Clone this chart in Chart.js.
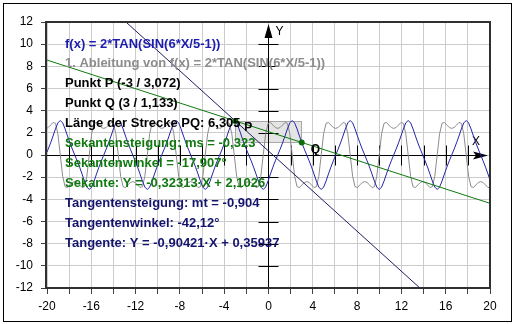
<!DOCTYPE html>
<html>
<head>
<meta charset="utf-8">
<title>Sekante und Tangente</title>
<script src="https://cdn.jsdelivr.net/npm/chart.js@4.4.1/dist/chart.umd.min.js"></script>
<style>
  html, body { margin: 0; padding: 0; background: #fff; }
  canvas { display: block; }
</style>
</head>
<body>
<canvas id="grafik" width="515" height="324"></canvas>
<script>
var xWerte = [-20,
  -19.892, -19.674, -19.456, -19.238, -19.020, -18.802, -18.583, -18.365, -18.147, -17.929, -17.711, -17.493,
  -17.274, -17.056, -16.838, -16.620, -16.402, -16.184, -15.965, -15.747, -15.529, -15.311, -15.093,
  -14.875, -14.656, -14.438, -14.220, -14.002, -13.784, -13.566, -13.347, -13.129, -12.911, -12.693, -12.475,
  -12.257, -12.038, -11.820, -11.602, -11.384, -11.166, -10.948, -10.729, -10.511, -10.293, -10.075, -9.857,
  -9.639, -9.420, -9.202, -8.984, -8.766, -8.548, -8.330, -8.111, -7.893, -7.675, -7.457, -7.239,
  -7.021, -6.802, -6.584, -6.366, -6.148, -5.930, -5.712, -5.493, -5.275, -5.057, -4.839, -4.621,
  -4.403, -4.184, -3.966, -3.748, -3.530, -3.312, -3.094, -2.875, -2.657, -2.439, -2.221, -2.003,
  -1.785, -1.566, -1.348, -1.130, -0.912, -0.694, -0.476, -0.258, -0.039, 0.179, 0.397, 0.615,
  0.833, 1.052, 1.270, 1.488, 1.706, 1.924, 2.142, 2.360, 2.579, 2.797, 3.015, 3.233,
  3.451, 3.670, 3.888, 4.106, 4.324, 4.542, 4.760, 4.978, 5.197, 5.415, 5.633, 5.851,
  6.069, 6.287, 6.506, 6.724, 6.942, 7.160, 7.378, 7.596, 7.815, 8.033, 8.251, 8.469,
  8.687, 8.905, 9.124, 9.342, 9.560, 9.778, 9.996, 10.214, 10.433, 10.651, 10.869, 11.087,
  11.305, 11.523, 11.742, 11.960, 12.178, 12.396, 12.614, 12.832, 13.051, 13.269, 13.487, 13.705,
  13.923, 14.141, 14.360, 14.578, 14.796, 15.014, 15.232, 15.450, 15.669, 15.887, 16.105, 16.323,
  16.541, 16.759, 16.978, 17.196, 17.414, 17.632, 17.850, 18.068, 18.287, 18.505, 18.723, 18.941,
  19.159, 19.377, 19.596, 19.814,
  20];

// f(x) = 2*TAN(SIN(6*X/5-1))
var fWerte = [0.266,
  0.530, 1.093, 1.709, 2.352, 2.893, 3.115, 2.893, 2.352, 1.709, 1.093, 0.530,
  0, -0.530, -1.093, -1.709, -2.352, -2.893, -3.115, -2.893, -2.352, -1.709, -1.093, -0.530,
  0, 0.530, 1.093, 1.709, 2.352, 2.893, 3.115, 2.893, 2.352, 1.709, 1.093, 0.530,
  0, -0.530, -1.093, -1.709, -2.352, -2.893, -3.115, -2.893, -2.352, -1.709, -1.093, -0.530,
  0, 0.530, 1.093, 1.709, 2.352, 2.893, 3.115, 2.893, 2.352, 1.709, 1.093, 0.530,
  0, -0.530, -1.093, -1.709, -2.352, -2.893, -3.115, -2.893, -2.352, -1.709, -1.093, -0.530,
  0, 0.530, 1.093, 1.709, 2.352, 2.893, 3.115, 2.893, 2.352, 1.709, 1.093, 0.530,
  0, -0.530, -1.093, -1.709, -2.352, -2.893, -3.115, -2.893, -2.352, -1.709, -1.093, -0.530,
  0, 0.530, 1.093, 1.709, 2.352, 2.893, 3.115, 2.893, 2.352, 1.709, 1.093, 0.530,
  0, -0.530, -1.093, -1.709, -2.352, -2.893, -3.115, -2.893, -2.352, -1.709, -1.093, -0.530,
  0, 0.530, 1.093, 1.709, 2.352, 2.893, 3.115, 2.893, 2.352, 1.709, 1.093, 0.530,
  0, -0.530, -1.093, -1.709, -2.352, -2.893, -3.115, -2.893, -2.352, -1.709, -1.093, -0.530,
  0, 0.530, 1.093, 1.709, 2.352, 2.893, 3.115, 2.893, 2.352, 1.709, 1.093, 0.530,
  0, -0.530, -1.093, -1.709, -2.352, -2.893, -3.115, -2.893, -2.352, -1.709, -1.093, -0.530,
  0, 0.530, 1.093, 1.709, 2.352, 2.893, 3.115, 2.893, 2.352, 1.709, 1.093, 0.530,
  0, -0.530, -1.093, -1.709,
  -2.259];

// 1. Ableitung
var ableitungWerte = [2.421,
  2.481, 2.699, 2.936, 2.859, 1.921, 0, -1.921, -2.859, -2.936, -2.699, -2.481,
  -2.400, -2.481, -2.699, -2.936, -2.859, -1.921, 0, 1.921, 2.859, 2.936, 2.699, 2.481,
  2.400, 2.481, 2.699, 2.936, 2.859, 1.921, 0, -1.921, -2.859, -2.936, -2.699, -2.481,
  -2.400, -2.481, -2.699, -2.936, -2.859, -1.921, 0, 1.921, 2.859, 2.936, 2.699, 2.481,
  2.400, 2.481, 2.699, 2.936, 2.859, 1.921, 0, -1.921, -2.859, -2.936, -2.699, -2.481,
  -2.400, -2.481, -2.699, -2.936, -2.859, -1.921, 0, 1.921, 2.859, 2.936, 2.699, 2.481,
  2.400, 2.481, 2.699, 2.936, 2.859, 1.921, 0, -1.921, -2.859, -2.936, -2.699, -2.481,
  -2.400, -2.481, -2.699, -2.936, -2.859, -1.921, 0, 1.921, 2.859, 2.936, 2.699, 2.481,
  2.400, 2.481, 2.699, 2.936, 2.859, 1.921, 0, -1.921, -2.859, -2.936, -2.699, -2.481,
  -2.400, -2.481, -2.699, -2.936, -2.859, -1.921, 0, 1.921, 2.859, 2.936, 2.699, 2.481,
  2.400, 2.481, 2.699, 2.936, 2.859, 1.921, 0, -1.921, -2.859, -2.936, -2.699, -2.481,
  -2.400, -2.481, -2.699, -2.936, -2.859, -1.921, 0, 1.921, 2.859, 2.936, 2.699, 2.481,
  2.400, 2.481, 2.699, 2.936, 2.859, 1.921, 0, -1.921, -2.859, -2.936, -2.699, -2.481,
  -2.400, -2.481, -2.699, -2.936, -2.859, -1.921, 0, 1.921, 2.859, 2.936, 2.699, 2.481,
  2.400, 2.481, 2.699, 2.936, 2.859, 1.921, 0, -1.921, -2.859, -2.936, -2.699, -2.481,
  -2.400, -2.481, -2.699, -2.936,
  -2.911];

var sekanteX = [-20, 20];
var sekanteY = [8.565, -4.360];
var tangenteX = [-12.874, 13.669];
var tangenteY = [12, -12];

var punkteX = [-3, 3];
var punkteY = [3.072, 1.133];
var punkteNamen = ['P', 'Q'];

var xBeschriftung = [-20, -16, -12, -8, -4, 0, 4, 8, 12, 16, 20];
var yBeschriftung = [-12, -10, -8, -6, -4, -2, 0, 2, 4, 6, 8, 10, 12];

var textZeilen = [
  'f(x) = 2*TAN(SIN(6*X/5-1))',
  '1. Ableitung von f(x) = 2*TAN(SIN(6*X/5-1))',
  'Punkt P (-3 / 3,072)',
  'Punkt Q (3 / 1,133)',
  'Länge der Strecke PQ: 6,305',
  'Sekantensteigung: ms = -0,323',
  'Sekantenwinkel = -17,907°',
  'Sekante: Y = -0,32313·X + 2,1026',
  'Tangentensteigung: mt = -0,904',
  'Tangentenwinkel: -42,12°',
  'Tangente: Y = -0,90421·X + 0,35937'
];
var textFarben = ['#1c1cb0', '#8c8c8c', '#000000', '#000000', '#000000',
  '#0f780f', '#0f780f', '#0f780f', '#14146e', '#14146e', '#14146e'];

var schrift = '"Liberation Sans", Arial, sans-serif';
Chart.defaults.font.family = schrift;

function paare(xs, ys) {
  return xs.map(function (x, i) { return { x: x, y: ys[i] }; });
}

// Achsen, Kasten, Texte und Rahmen
var zeichner = {
  id: 'zeichner',
  beforeDatasetsDraw: function (chart) {
    var ctx = chart.ctx, a = chart.chartArea, sx = chart.scales.x, sy = chart.scales.y;
    var px = sx.getPixelForValue(punkteX[0]), py = sy.getPixelForValue(punkteY[0]);
    var qx = sx.getPixelForValue(punkteX[1]), qy = sy.getPixelForValue(punkteY[1]);
    ctx.save();
    ctx.fillStyle = '#e4e4e4';
    ctx.fillRect(px, py, qx - px, qy - py);
    ctx.strokeStyle = '#a8a8a8';
    ctx.lineWidth = 1;
    ctx.strokeRect(Math.round(px) + 0.5, Math.round(py) + 0.5, Math.round(qx - px), Math.round(qy - py));

    var x0 = Math.floor(sx.getPixelForValue(0)) + 0.5;
    var y0 = Math.floor(sy.getPixelForValue(0)) + 0.5;
    ctx.strokeStyle = '#000';
    ctx.beginPath();
    ctx.moveTo(a.left, y0); ctx.lineTo(a.right - 4, y0);
    ctx.moveTo(x0, a.bottom); ctx.lineTo(x0, a.top + 4);
    sx.ticks.forEach(function (t) {
      if (t.value === 0 || Math.abs(t.value) >= 20) return;
      var p = Math.round(sx.getPixelForValue(t.value)) + 0.5;
      ctx.moveTo(p, y0 - 10); ctx.lineTo(p, y0 + 10);
    });
    sy.ticks.forEach(function (t) {
      if (t.value === 0 || Math.abs(t.value) >= 12) return;
      var p = Math.round(sy.getPixelForValue(t.value)) + 0.5;
      ctx.moveTo(x0 - 10, p); ctx.lineTo(x0 + 10, p);
    });
    ctx.stroke();

    // Pfeile
    ctx.fillStyle = '#000';
    ctx.beginPath();
    ctx.moveTo(a.right - 2, y0);
    ctx.lineTo(a.right - 17, y0 - 4);
    ctx.lineTo(a.right - 14, y0);
    ctx.lineTo(a.right - 17, y0 + 4);
    ctx.closePath();
    ctx.fill();
    ctx.beginPath();
    ctx.moveTo(x0, a.top + 2);
    ctx.lineTo(x0 - 4, a.top + 16);
    ctx.lineTo(x0 + 4, a.top + 16);
    ctx.closePath();
    ctx.fill();

    ctx.font = '12px ' + schrift;
    ctx.textAlign = 'center';
    ctx.textBaseline = 'middle';
    ctx.fillText('X', a.right - 14, y0 - 14);
    ctx.fillText('Y', x0 + 11, a.top + 10);
    ctx.restore();
  },
  afterDatasetsDraw: function (chart) {
    var ctx = chart.ctx, a = chart.chartArea, sx = chart.scales.x, sy = chart.scales.y;
    ctx.save();
    ctx.font = 'bold 13px ' + schrift;
    ctx.textAlign = 'left';
    ctx.textBaseline = 'middle';
    textZeilen.forEach(function (t, i) {
      ctx.fillStyle = textFarben[i];
      ctx.fillText(t, a.left + 18, a.top + 22 + 19.9 * i);
    });
    ctx.fillStyle = '#000';
    ctx.font = 'bold 12px ' + schrift;
    punkteNamen.forEach(function (n, i) {
      ctx.fillText(n, sx.getPixelForValue(punkteX[i]) + 9, sy.getPixelForValue(punkteY[i]) + 7);
    });
    ctx.restore();
  },
  afterDraw: function (chart) {
    var ctx = chart.ctx, a = chart.chartArea;
    ctx.save();
    ctx.strokeStyle = '#303030';
    ctx.lineWidth = 2;
    ctx.strokeRect(a.left - 1, a.top, a.right - a.left + 1, a.bottom - a.top);
    ctx.strokeStyle = '#000';
    ctx.lineWidth = 1;
    ctx.strokeRect(3.5, 3.5, 508, 318);
    ctx.restore();
  }
};

new Chart(document.getElementById('grafik'), {
  type: 'scatter',
  data: {
    datasets: [
      { data: paare(punkteX, punkteY), showLine: false, pointRadius: 3,
        pointBackgroundColor: '#0a6e0a', pointBorderColor: '#0a6e0a', pointBorderWidth: 0 },
      { data: paare(tangenteX, tangenteY), showLine: true, borderColor: '#1e1e64',
        borderWidth: 1, pointRadius: 0, tension: 0 },
      { data: paare(sekanteX, sekanteY), showLine: true, borderColor: '#0f7a0f',
        borderWidth: 1, pointRadius: 0, tension: 0 },
      { data: paare(xWerte, fWerte), showLine: true, borderColor: '#2424a8',
        borderWidth: 1, pointRadius: 0, tension: 0 },
      { data: paare(xWerte, ableitungWerte), showLine: true, borderColor: '#8c8c8c',
        borderWidth: 1, pointRadius: 0, tension: 0 }
    ]
  },
  options: {
    responsive: false,
    animation: false,
    devicePixelRatio: 1,
    layout: { padding: { top: 22, right: 25, left: 0, bottom: 0 } },
    plugins: { legend: { display: false }, tooltip: { enabled: false } },
    scales: {
      x: {
        type: 'linear', min: -20, max: 20,
        afterFit: function (s) { s.height = 36; },
        ticks: {
          stepSize: 2, autoSkip: false, maxRotation: 0, padding: 5,
          color: '#000', font: { size: 12 },
          callback: function (v) { return xBeschriftung.indexOf(v) >= 0 ? String(v) : ''; }
        },
        grid: { color: '#cccccc', tickColor: '#404040', tickLength: 6 },
        border: { display: false }
      },
      y: {
        type: 'linear', min: -12, max: 12,
        afterFit: function (s) { s.width = 47; },
        ticks: {
          stepSize: 2, autoSkip: false, padding: 8,
          color: '#000', font: { size: 12 },
          callback: function (v) { return yBeschriftung.indexOf(v) >= 0 ? String(v) : ''; }
        },
        grid: { color: '#cccccc', tickColor: '#404040', tickLength: 6 },
        border: { display: false }
      }
    }
  },
  plugins: [zeichner]
});
</script>
</body>
</html>
